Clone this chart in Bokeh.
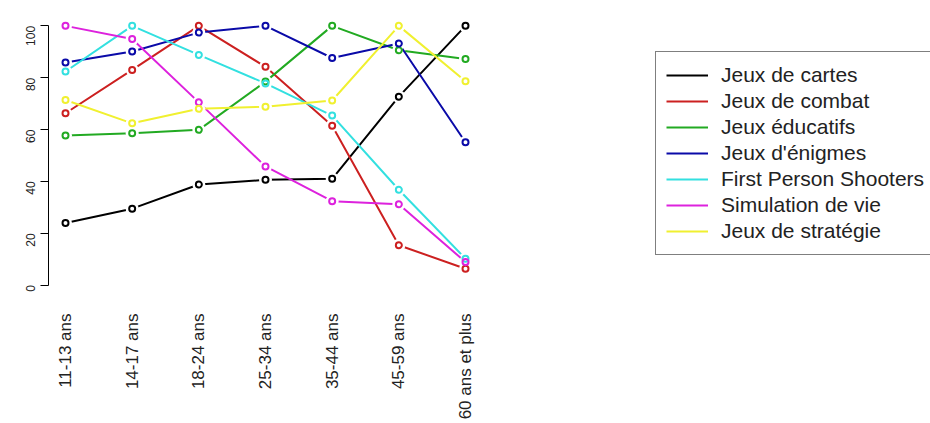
import math
from bokeh.plotting import figure
from bokeh.models import FixedTicker, Legend, LegendItem, Range1d
from bokeh.embed import file_html
from bokeh.resources import INLINE

ages = ["11-13 ans", "14-17 ans", "18-24 ans", "25-34 ans", "35-44 ans", "45-59 ans", "60 ans et plus"]
series_names = ["Jeux de cartes", "Jeux de combat", "Jeux éducatifs", "Jeux d'énigmes",
                "First Person Shooters", "Simulation de vie", "Jeux de stratégie"]
cartes = [24, 29.5, 38.8, 40.6, 41, 72.7, 100]
combat = [66.3, 83, 100, 84.2, 61.5, 15.4, 6.3]
educatifs = [57.7, 58.6, 59.9, 78.5, 100, 90.6, 87.2]
enigmes = [85.9, 90.1, 97.4, 100, 87.6, 93.2, 55.1]
fps = [82.4, 100, 88.8, 77.8, 65.4, 36.8, 10.2]
simulation = [100, 94.9, 70.5, 45.8, 32.4, 31.2, 8.9]
strategie = [71.4, 62.4, 68, 68.8, 71.2, 100, 78.6]
yticks = [0, 20, 40, 60, 80, 100]

series = [cartes, combat, educatifs, enigmes, fps, simulation, strategie]
colors = ["#000000", "#cc2020", "#22aa22", "#0a0aa8", "#33e0e0", "#dd22dd", "#f0f030"]

xs = list(range(len(ages)))

p = figure(width=930, height=423, output_backend="svg", toolbar_location=None,
           x_range=Range1d(-0.255, 12.975), y_range=Range1d(-4, 104),
           min_border_left=48, min_border_top=15, min_border_bottom=128, min_border_right=0)
p.outline_line_color = None
p.xgrid.visible = False
p.ygrid.visible = False
p.background_fill_color = "white"
p.border_fill_color = "white"

items = []
for name, vals, col in zip(series_names, series, colors):
    r = p.line(xs, vals, line_color=col, line_width=2)
    p.scatter(xs, vals, size=13, fill_color="white", line_color=None)
    items.append(LegendItem(label=name, renderers=[r]))
for vals, col in zip(series, colors):
    p.scatter(xs, vals, size=6, fill_color=None, line_color=col, line_width=2)

# y axis
ya = p.yaxis[0]
ya.ticker = FixedTicker(ticks=yticks)
ya.bounds = (0, 100)
ya.major_tick_out = 8
ya.major_tick_in = 0
ya.minor_tick_line_color = None
ya.major_label_orientation = math.pi / 2
ya.major_label_standoff = 10
ya.major_label_text_font = "Liberation Sans"
ya.major_label_text_font_size = "12px"
ya.major_label_text_color = "#222222"
ya.axis_line_color = "#000000"
ya.major_tick_line_color = "#000000"

# x axis
xa = p.xaxis[0]
xa.ticker = FixedTicker(ticks=xs)
xa.major_label_overrides = {i: a for i, a in zip(xs, ages)}
xa.axis_line_color = None
xa.major_tick_line_color = None
xa.minor_tick_line_color = None
xa.major_tick_out = 0
xa.major_tick_in = 0
xa.major_label_orientation = math.pi / 2
xa.major_label_standoff = 18
xa.major_label_text_font = "Liberation Sans"
xa.major_label_text_font_size = "17px"
xa.major_label_text_color = "#222222"

legend = Legend(items=items, location=(607, 40))
legend.border_line_color = "#000000"
legend.border_line_width = 1
legend.background_fill_alpha = 1
legend.padding = 10
legend.spacing = 0
legend.margin = 0
legend.glyph_width = 42
legend.glyph_height = 26
legend.label_height = 26
legend.label_standoff = 13
legend.label_text_font = "Liberation Sans"
legend.label_text_font_size = "21px"
legend.label_text_color = "#222222"
legend.label_text_baseline = "middle"
p.add_layout(legend)

open("out.html", "w").write(file_html(p, INLINE))
